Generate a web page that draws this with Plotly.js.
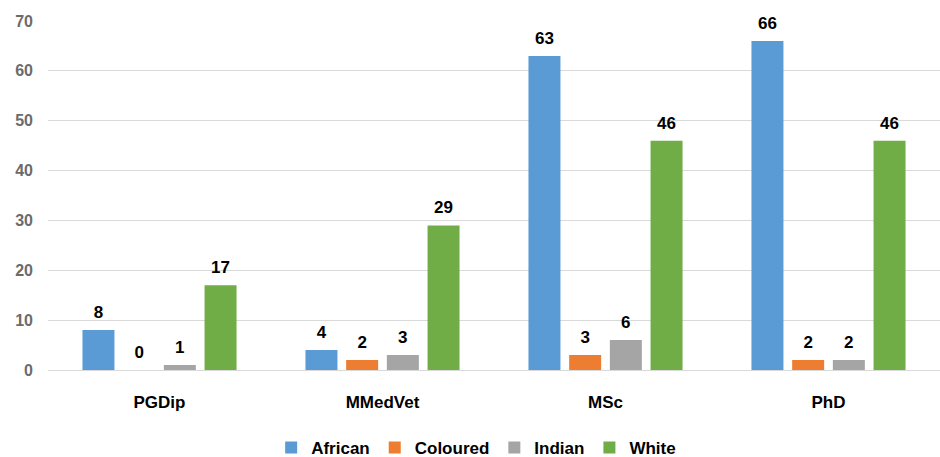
<!DOCTYPE html>
<html><head><meta charset="utf-8">
<script src="https://cdn.plot.ly/plotly-3.0.1.min.js"></script>
<style>body{margin:0;background:#fff}#c{width:940px;height:457px}</style>
</head><body><div id="c"></div>
<script>
const categories = ["PGDip", "MMedVet", "MSc", "PhD"];
const african = [8, 4, 63, 66];
const coloured = [0, 2, 3, 2];
const indian = [1, 3, 6, 2];
const white = [17, 29, 46, 46];
const seriesNames = ["African", "Coloured", "Indian", "White"];
const seriesColors = ["#5B9BD5", "#ED7D31", "#A5A5A5", "#70AD47"];
const allValues = [african, coloured, indian, white];

const FONT = "Liberation Sans, Arial, sans-serif";
const bars = allValues.map((v, i) => ({
  type: "bar", name: seriesNames[i], x: categories, y: v,
  marker: {color: seriesColors[i]}, hoverinfo: "none"
}));
const labels = allValues.map((v, i) => ({
  type: "scatter", mode: "markers+text", x: categories, y: v, showlegend: false,
  text: v.map(String), textposition: "top center", cliponaxis: false,
  marker: {size: 11, color: "rgba(0,0,0,0)"},
  textfont: {family: FONT, size: 17, color: "#000", weight: "bold"},
  hoverinfo: "none"
}));

Plotly.newPlot("c", bars.concat(labels), {
  width: 940, height: 457,
  margin: {l: 48, r: 0, t: 21, b: 87},
  paper_bgcolor: "#fff", plot_bgcolor: "#fff",
  barmode: "group", bargap: 0.27, bargroupgap: 0.214,
  scattermode: "group", scattergap: 0.27,
  font: {family: FONT, size: 15},
  xaxis: {tickfont: {size: 17, color: "#000", weight: "bold"}, showline: false, ticks: "",
          ticklabelstandoff: 20, automargin: false},
  yaxis: {range: [0, 70], dtick: 10, gridcolor: "#D9D9D9", gridwidth: 1, zeroline: true, zerolinecolor: "#D9D9D9",
          tickfont: {size: 16, color: "#6b6b6b", weight: "bold"}, ticks: "", ticklabelstandoff: 14, automargin: false},
  legend: {orientation: "h", x: 0.48, xanchor: "center", yref: "container", y: 0.02, yanchor: "middle",
           font: {family: FONT, size: 17, color: "#000", weight: "bold"}, itemwidth: 30},
  showlegend: true
}, {staticPlot: true});
</script></body></html>
